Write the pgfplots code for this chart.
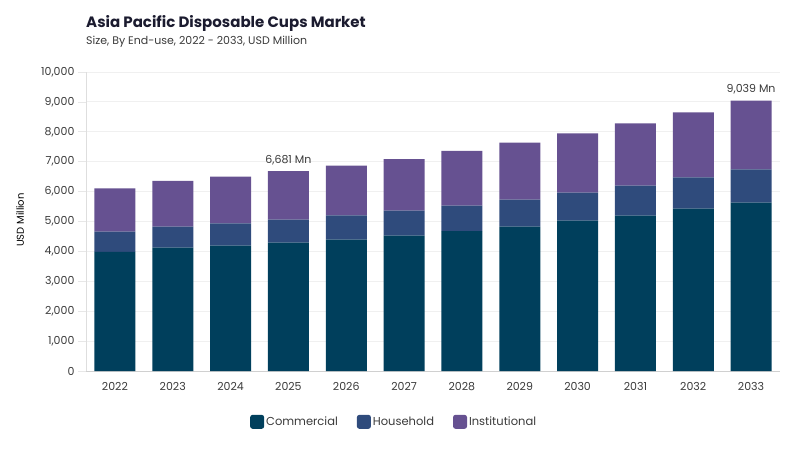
\documentclass[border=0pt]{standalone}
\usepackage{pgfplots}
\pgfplotsset{compat=1.18}
\usepackage{fontspec}
\setmainfont{Poppins}
\definecolor{com}{HTML}{003F5C}
\definecolor{hou}{HTML}{2F4B7C}
\definecolor{ins}{HTML}{665191}
\definecolor{titlec}{HTML}{1B1B2F}
\definecolor{txt}{HTML}{3A3A3A}
\definecolor{gridc}{HTML}{F0F0F0}
\definecolor{axc}{HTML}{D0D0D0}
\begin{document}
\begin{tikzpicture}
\path[use as bounding box] (0pt,0pt) rectangle (800pt,450pt);
\node[anchor=base west, font=\fontsize{15}{18}\selectfont\bfseries, text=titlec, inner sep=0] at (86pt,422pt) {Asia Pacific Disposable Cups Market};
\node[anchor=base west, font=\fontsize{11}{13}\selectfont, text=txt, inner sep=0] at (86pt,405pt) {Size, By End-use, 2022 - 2033, USD Million};
\begin{axis}[
  at={(86pt,79pt)}, anchor=south west, scale only axis,
  width=694pt, height=299pt,
  ybar stacked, bar width=41pt,
  xmin=-0.5, xmax=11.5, ymin=0, ymax=10000,
  xtick=data,
  xticklabels={2022,2023,2024,2025,2026,2027,2028,2029,2030,2031,2032,2033},
  ytick={0,1000,...,10000},
  /pgf/number format/assume math mode=true,
  yticklabel style={/pgf/number format/1000 sep={,}, font=\fontsize{11}{13}\selectfont, text=txt},
  xticklabel style={font=\fontsize{11}{13}\selectfont, text=txt},
  scaled y ticks=false,
  ymajorgrids, grid style={gridc, line width=0.8pt},
  axis x line*=bottom, axis y line*=left,
  x axis line style={axc, line width=0.8pt, -},
  y axis line style={axc!70, line width=1pt, -},
  major x tick style={draw=none},
  major y tick style={gridc!70!axc, line width=0.6pt},
  tick align=outside, major tick length=8pt,
  ylabel={USD Million}, ylabel style={font=\fontsize{11.5}{13}\selectfont, text=txt},
  every axis y label/.style={at={(axis description cs:-0.0951,0.505)}, rotate=90, anchor=center},
  legend style={at={(axis description cs:0.444,-0.171)}, anchor=center, draw=none, fill=none,
    legend columns=-1, font=\fontsize{11.5}{13}\selectfont, text=txt,
    /tikz/every even column/.append style={column sep=17pt}},
  legend image code/.code={\fill[#1, rounded corners=2.5pt] (0pt,-6.5pt) rectangle (14pt,7.5pt);},
  clip=false,
]
\addplot[fill=com, draw=none] coordinates {(0,3980) (1,4124) (2,4191) (3,4291) (4,4391) (5,4525) (6,4682) (7,4826) (8,5027) (9,5194) (10,5428) (11,5628)};
\addplot[fill=hou, draw=none] coordinates {(0,679) (1,702) (2,748) (3,769) (4,816) (5,837) (6,847) (7,903) (8,936) (9,1003) (10,1049) (11,1117)};
\addplot[fill=ins, draw=none] coordinates {(0,1451) (1,1529) (2,1560) (3,1621) (4,1660) (5,1728) (6,1829) (7,1907) (8,1986) (9,2086) (10,2174) (11,2294)};
\legend{Commercial, Household, Institutional}
\node[anchor=south, font=\fontsize{11}{13}\selectfont, text=txt, yshift=3pt] at (axis cs:3,6681) {6,681 Mn};
\node[anchor=south, font=\fontsize{11}{13}\selectfont, text=txt, yshift=3pt] at (axis cs:11,9039) {9,039 Mn};
\end{axis}
\end{tikzpicture}
\end{document}
